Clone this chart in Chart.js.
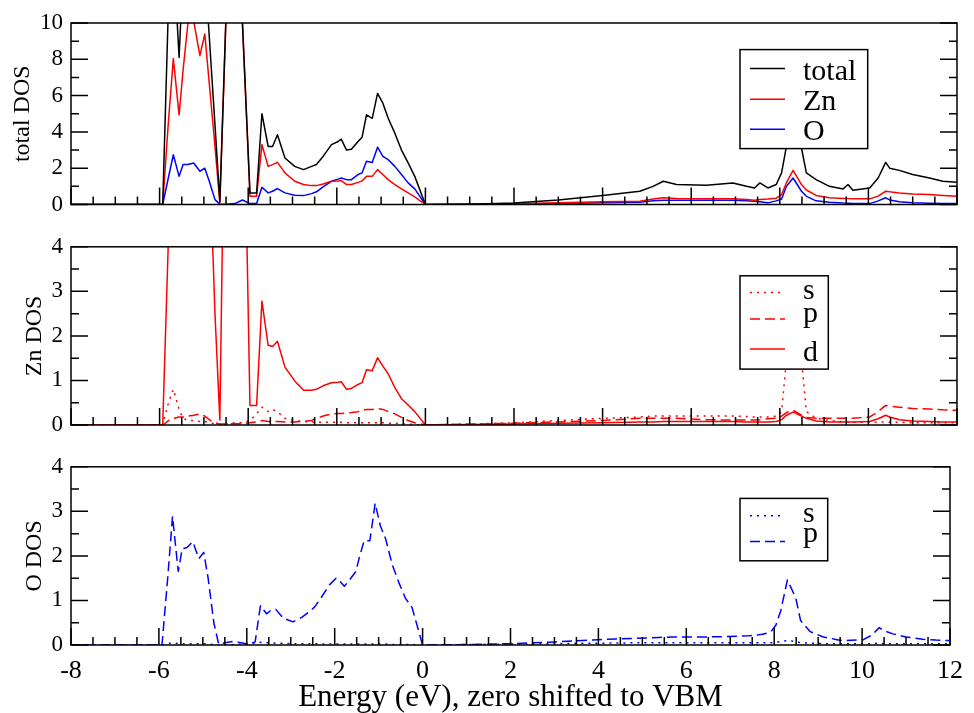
<!DOCTYPE html>
<html>
<head>
<meta charset="utf-8">
<script src="https://cdn.jsdelivr.net/npm/chart.js@4/dist/chart.umd.min.js"></script>
<style>
  html, body { margin: 0; padding: 0; background: #fff; }
  #wrap { position: relative; width: 974px; height: 713px; overflow: hidden; }
  .panel { position: absolute; left: 0; width: 974px; }
</style>
</head>
<body>
<div id="wrap">
  <div class="panel" style="top:0;height:230px"><canvas id="c1"></canvas></div>
  <div class="panel" style="top:225px;height:225px"><canvas id="c2"></canvas></div>
  <div class="panel" style="top:445px;height:268px"><canvas id="c3"></canvas></div>
</div>
<script>
// Energy grid (eV, zero at the valence band maximum)
const energy = [
  -8, -6.2, -5.93, -5.8, -5.69, -5.56, -5.47, -5.36, -5.23, -5.09,
  -4.98, -4.88, -4.75, -4.64, -4.5, -4.3, -4.13, -3.96, -3.81, -3.69,
  -3.55, -3.45, -3.34, -3.17, -2.95, -2.75, -2.57, -2.46, -2.31, -2.12,
  -1.97, -1.9, -1.78, -1.67, -1.52, -1.43, -1.33, -1.2, -1.08, -0.96,
  -0.84, -0.69, -0.54, -0.39, -0.24, 0, 1, 2, 3, 4,
  4.84, 5.14, 5.37, 5.67, 6.34, 6.94, 7.25, 7.43, 7.55, 7.73,
  7.92, 8.04, 8.15, 8.3, 8.49, 8.6, 8.82, 9.12, 9.43, 9.54,
  9.65, 10.03, 10.22, 10.39, 10.48, 10.7, 11.0, 11.38, 11.68, 12
];

// Total DOS and atom-resolved DOS
const totalDOS = [
  0, 0, 0, 11, 14, 8.1, 13, 16, 17, 15,
  13, 9.3, 4.4, 0.15, 10.5, 22, 10, 0.64, 0.64, 5.0,
  3.2, 3.2, 3.84, 2.56, 2.1, 1.92, 2.1, 2.2, 2.65, 3.3,
  3.47, 3.6, 3.0, 3.04, 3.47, 3.7, 4.94, 4.75, 6.12, 5.58,
  4.75, 3.93, 3.0, 2.29, 1.55, 0, 0.02, 0.08, 0.25, 0.5,
  0.73, 1.0, 1.28, 1.1, 1.06, 1.19, 1.0, 0.91, 1.19, 0.91,
  1.1, 1.74, 3.2, 3.7, 3.1, 1.74, 1.37, 1.0, 0.86, 1.1,
  0.79, 0.91, 1.46, 2.32, 2.0, 1.88, 1.65, 1.46, 1.28, 1.22
];
const znDOS = [
  0, 0, 0, 4.6, 8.04, 4.94, 7.4, 10.0, 10.1, 8.2,
  9.4, 6.7, 3.2, 0.12, 10.3, 20, 10, 0.46, 0.46, 3.3,
  2.1, 2.2, 2.32, 1.74, 1.28, 1.1, 1.04, 1.04, 1.13, 1.28,
  1.3, 1.32, 1.1, 1.1, 1.22, 1.3, 1.55, 1.55, 1.92, 1.65,
  1.37, 1.1, 0.86, 0.64, 0.42, 0, 0.01, 0.04, 0.1, 0.15,
  0.18, 0.3, 0.37, 0.33, 0.31, 0.31, 0.27, 0.24, 0.27, 0.3,
  0.35, 0.55, 1.2, 1.88, 1.1, 0.8, 0.5, 0.37, 0.33, 0.33,
  0.31, 0.31, 0.46, 0.73, 0.7, 0.64, 0.58, 0.55, 0.5, 0.46
];
const oDOS = [
  0, 0, 0, 1.5, 2.74, 1.55, 2.2, 2.2, 2.29, 1.83,
  2.0, 1.3, 0.27, 0.02, 0.02, 0.05, 0.25, 0.05, 0.05, 0.95,
  0.64, 0.73, 0.88, 0.64, 0.51, 0.49, 0.6, 0.7, 0.97, 1.28,
  1.4, 1.46, 1.37, 1.37, 1.65, 1.74, 2.38, 2.32, 3.16, 2.65,
  2.47, 2.1, 1.65, 1.19, 0.86, 0, 0.01, 0.03, 0.06, 0.1,
  0.13, 0.2, 0.24, 0.24, 0.24, 0.24, 0.2, 0.18, 0.15, 0.09,
  0.2, 0.3, 1.0, 1.46, 0.73, 0.45, 0.2, 0.13, 0.08, 0.07,
  0.06, 0.05, 0.2, 0.37, 0.25, 0.15, 0.09, 0.07, 0.06, 0.05
];

// Zn orbital-projected DOS
const znS = [
  0, 0, 0, 0.5, 0.8, 0.35, 0.15, 0.1, 0.1, 0.08,
  0.08, 0.05, 0.03, 0.02, 0.03, 0.05, 0.05, 0.1, 0.25, 0.4,
  0.3, 0.35, 0.3, 0.15, 0.1, 0.08, 0.07, 0.06, 0.06, 0.06,
  0.06, 0.06, 0.05, 0.05, 0.05, 0.05, 0.05, 0.05, 0.05, 0.05,
  0.04, 0.04, 0.03, 0.02, 0.01, 0, 0.02, 0.05, 0.1, 0.15,
  0.18, 0.2, 0.2, 0.2, 0.2, 0.2, 0.19, 0.18, 0.18, 0.18,
  0.2, 0.3, 1.45, 1.7, 1.45, 0.3, 0.15, 0.1, 0.07, 0.06,
  0.06, 0.06, 0.06, 0.07, 0.06, 0.06, 0.05, 0.05, 0.05, 0.05
];
const znP = [
  0, 0, 0, 0.1, 0.15, 0.18, 0.18, 0.2, 0.22, 0.25,
  0.2, 0.12, 0.05, 0.02, 0.02, 0.03, 0.03, 0.05, 0.07, 0.1,
  0.08, 0.08, 0.08, 0.07, 0.07, 0.08, 0.1, 0.15, 0.2, 0.25,
  0.26, 0.26, 0.27, 0.28, 0.3, 0.33, 0.35, 0.35, 0.37, 0.35,
  0.3, 0.25, 0.17, 0.1, 0.05, 0, 0.02, 0.04, 0.07, 0.1,
  0.15, 0.15, 0.15, 0.15, 0.12, 0.11, 0.11, 0.11, 0.12, 0.14,
  0.15, 0.2, 0.28, 0.33, 0.22, 0.17, 0.15, 0.15, 0.15, 0.15,
  0.15, 0.18, 0.3, 0.44, 0.42, 0.4, 0.37, 0.36, 0.34, 0.33
];
const znD = [
  0, 0, 0, 4.2, 7.5, 4.5, 7.0, 9.5, 9.8, 7.8,
  9.0, 6.3, 2.5, 0.11, 10, 19, 9.5, 0.44, 0.44, 2.78,
  1.79, 1.76, 1.88, 1.3, 0.99, 0.78, 0.78, 0.8, 0.88, 0.95,
  0.96, 0.97, 0.8, 0.82, 0.91, 0.95, 1.24, 1.22, 1.51, 1.32,
  1.15, 0.84, 0.59, 0.45, 0.3, 0, 0.01, 0.02, 0.04, 0.05,
  0.07, 0.07, 0.08, 0.08, 0.08, 0.08, 0.07, 0.07, 0.07, 0.07,
  0.08, 0.12, 0.22, 0.29, 0.2, 0.15, 0.09, 0.07, 0.07, 0.07,
  0.07, 0.08, 0.14, 0.22, 0.18, 0.12, 0.09, 0.08, 0.07, 0.07
];

// O orbital-projected DOS
const oS = [
  0, 0, 0, 0.03, 0.05, 0.03, 0.03, 0.03, 0.03, 0.03,
  0.03, 0.02, 0.01, 0, 0, 0.01, 0.02, 0.02, 0.04, 0.06,
  0.05, 0.05, 0.04, 0.04, 0.03, 0.03, 0.03, 0.03, 0.02, 0.02,
  0.02, 0.02, 0.02, 0.02, 0.02, 0.02, 0.02, 0.02, 0.02, 0.02,
  0.02, 0.01, 0.01, 0.01, 0.01, 0, 0.01, 0.02, 0.03, 0.04,
  0.05, 0.05, 0.05, 0.05, 0.05, 0.05, 0.05, 0.05, 0.05, 0.05,
  0.05, 0.06, 0.08, 0.1, 0.08, 0.05, 0.04, 0.03, 0.03, 0.03,
  0.03, 0.03, 0.03, 0.04, 0.03, 0.03, 0.03, 0.03, 0.03, 0.03
];
const oP = [
  0, 0, 0, 1.5, 2.89, 1.65, 2.16, 2.19, 2.32, 1.94,
  2.08, 1.5, 0.5, 0.02, 0.05, 0.08, 0.05, 0.02, 0.07, 0.88,
  0.7, 0.78, 0.8, 0.6, 0.52, 0.62, 0.75, 0.85, 1.06, 1.35,
  1.5, 1.45, 1.32, 1.45, 1.65, 2.0, 2.34, 2.34, 3.18, 2.67,
  2.38, 1.8, 1.4, 1.05, 0.84, 0, 0.01, 0.03, 0.07, 0.12,
  0.15, 0.16, 0.17, 0.18, 0.18, 0.19, 0.2, 0.21, 0.22, 0.24,
  0.29, 0.45, 0.77, 1.46, 1.06, 0.55, 0.3, 0.18, 0.12, 0.1,
  0.1, 0.12, 0.22, 0.39, 0.33, 0.25, 0.18, 0.13, 0.11, 0.1
];

const xTickLabels = [-8, -6, -4, -2, 0, 2, 4, 6, 8, 10, 12];

const SERIF = "'Liberation Serif', 'Times New Roman', serif";
Chart.defaults.font.family = SERIF;
Chart.defaults.color = '#000';

const BLACK = '#000000', RED = '#ff0000', BLUE = '#0000ff';
const DOTTED = [2, 5], DASHED = [10, 5];

function points(values) {
  return energy.map((e, i) => ({ x: e, y: values[i] }));
}
function series(label, values, color, dash) {
  return {
    label, data: points(values), borderColor: color, backgroundColor: color,
    borderWidth: 1.5, borderDash: dash || [], pointRadius: 0, tension: 0,
    fill: false, borderJoinStyle: 'round'
  };
}

// Frame around the plot area with inward major/minor tick marks
const frameTicks = {
  id: 'frameTicks',
  afterDraw(chart, args, opts) {
    const { ctx, chartArea: a, scales: { x, y } } = chart;
    ctx.save();
    ctx.strokeStyle = '#000';
    ctx.lineWidth = 1.5;
    ctx.beginPath();
    const nx = Math.round((x.max - x.min) / opts.xMinor);
    for (let i = 0; i <= nx; i++) {
      const v = x.min + i * opts.xMinor;
      const px = x.getPixelForValue(v);
      const r = v / opts.xMajor;
      const len = Math.abs(r - Math.round(r)) < 1e-6 ? 17 : 8;
      ctx.moveTo(px, a.bottom);
      ctx.lineTo(px, a.bottom - len);
    }
    const ny = Math.round((y.max - y.min) / opts.yMinor);
    for (let i = 0; i <= ny; i++) {
      const v = y.min + i * opts.yMinor;
      const py = y.getPixelForValue(v);
      const r = v / opts.yMajor;
      const len = Math.abs(r - Math.round(r)) < 1e-6 ? 17 : 8;
      ctx.moveTo(a.left, py); ctx.lineTo(a.left + len, py);
      ctx.moveTo(a.right, py); ctx.lineTo(a.right - len, py);
    }
    ctx.stroke();
    ctx.strokeRect(a.left, a.top, a.width, a.height);
    ctx.restore();
  }
};

// Boxed legend drawn inside the plot area, over the curves
const boxLegend = {
  id: 'boxLegend',
  afterDatasetsDraw(chart, args, opts) {
    const { ctx, chartArea: a } = chart;
    const bx = a.left + opts.left, by = a.top + opts.top;
    ctx.save();
    ctx.fillStyle = '#fff';
    ctx.fillRect(bx, by, opts.width, opts.height);
    ctx.strokeStyle = '#000';
    ctx.lineWidth = 1.5;
    ctx.strokeRect(bx, by, opts.width, opts.height);
    opts.rows.forEach((row, i) => {
      const ds = chart.data.datasets[i];
      ctx.beginPath();
      ctx.strokeStyle = ds.borderColor;
      ctx.lineWidth = 1.5;
      ctx.setLineDash(ds.borderDash || []);
      ctx.moveTo(bx + 10, by + row.lineY);
      ctx.lineTo(bx + 45, by + row.lineY);
      ctx.stroke();
      ctx.setLineDash([]);
      ctx.fillStyle = '#000';
      ctx.font = '30px ' + SERIF;
      ctx.textBaseline = 'alphabetic';
      ctx.textAlign = 'left';
      ctx.fillText(ds.label, bx + 63, by + row.textY);
    });
    ctx.restore();
  }
};

function makePanel(id, datasets, cfg) {
  return new Chart(document.getElementById(id), {
    type: 'line',
    data: { datasets },
    plugins: [boxLegend, frameTicks],
    options: {
      responsive: true,
      maintainAspectRatio: false,
      animation: false,
      devicePixelRatio: 1,
      events: [],
      layout: { padding: cfg.padding },
      plugins: {
        legend: { display: false },
        tooltip: { enabled: false },
        boxLegend: cfg.legend,
        frameTicks: { xMinor: 0.5, xMajor: 2, yMinor: cfg.yMinor, yMajor: cfg.yStep }
      },
      scales: {
        x: {
          type: 'linear', min: -8, max: 12,
          display: cfg.showX,
          grid: { display: false, drawTicks: false },
          border: { display: false },
          afterBuildTicks: s => { s.ticks = xTickLabels.map(v => ({ value: v })); },
          ticks: { autoSkip: false, maxRotation: 0, padding: 11,
                   font: { family: SERIF, size: 26 }, color: '#000' },
          title: {
            display: cfg.showX, text: 'Energy (eV), zero shifted to VBM',
            font: { family: SERIF, size: 31, lineHeight: 1.0 }, color: '#000',
            padding: { top: 0, bottom: 0 }
          },
          afterFit: s => { s.height = cfg.xHeight; }
        },
        y: {
          min: 0, max: cfg.yMax,
          grid: { display: false, drawTicks: false },
          border: { display: false },
          ticks: { stepSize: cfg.yStep, padding: 8,
                   font: { family: SERIF, size: 23 }, color: '#000' },
          title: {
            display: true, text: cfg.yTitle, font: { family: SERIF, size: 24 }, color: '#000',
            padding: { top: cfg.titlePad, bottom: 0 }
          },
          afterFit: s => { s.width = 71; }
        }
      }
    }
  });
}

makePanel('c1', [
  series('total', totalDOS, BLACK),
  series('Zn', znDOS, RED),
  series('O', oDOS, BLUE)
], {
  padding: { top: 23, right: 17, bottom: 25.5, left: 0 },
  showX: false, xHeight: 0, yMax: 10, yStep: 2, yMinor: 1,
  yTitle: 'total DOS', titlePad: 8.6,
  legend: { left: 669, top: 26.6, width: 127.7, height: 99,
    rows: [{ lineY: 19, textY: 30 }, { lineY: 49.7, textY: 60.7 }, { lineY: 79.7, textY: 90.7 }] }
});

makePanel('c2', [
  series('s', znS, RED, DOTTED),
  series('p', znP, RED, DASHED),
  series('d', znD, RED)
], {
  padding: { top: 17.7, right: 17, bottom: 25, left: 0 },
  showX: false, xHeight: 0, yMax: 4, yStep: 1, yMinor: 0.5,
  yTitle: 'Zn DOS', titlePad: 20,
  legend: { left: 669, top: 29, width: 88.3, height: 93.3,
    rows: [{ lineY: 16.6, textY: 23.3 }, { lineY: 43.3, textY: 46.6 }, { lineY: 73.3, textY: 85 }] }
});

makePanel('c3', [
  series('s', oS, BLUE, DOTTED),
  series('p', oP, BLUE, DASHED)
], {
  padding: { top: 17.7, right: 17, bottom: 0, left: 0 },
  showX: true, xHeight: 68, yMax: 4, yStep: 1, yMinor: 0.5,
  yTitle: 'O DOS', titlePad: 20,
  legend: { left: 669, top: 31.6, width: 87.7, height: 62.4,
    rows: [{ lineY: 17.4, textY: 24 }, { lineY: 43, textY: 44 }] }
});
</script>
</body>
</html>
